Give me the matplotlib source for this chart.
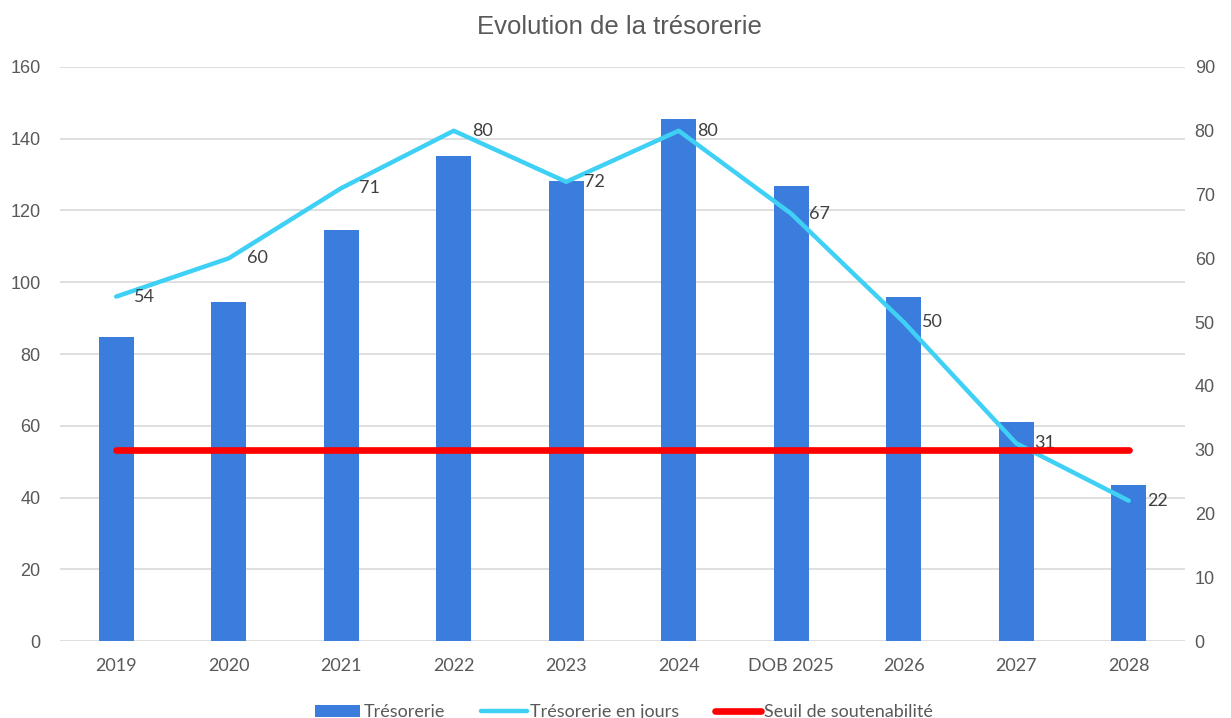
import matplotlib.pyplot as plt
import numpy as np

# données
annees = ["2019", "2020", "2021", "2022", "2023", "2024", "DOB 2025", "2026", "2027", "2028"]
tresorerie = [84.7, 94.6, 114.6, 135.1, 128.3, 145.4, 126.8, 95.8, 61.1, 43.6]
tresorerie_jours = [54, 60, 71, 80, 72, 80, 67, 50, 31, 22]
seuil = [30] * len(annees)

BLEU = "#3b7ddd"
CYAN = "#3fd0f5"
ROUGE = "#ff0000"
GRIS = "#595959"

def main():
    fig = plt.figure(figsize=(12.31, 7.18), dpi=100)
    ax = fig.add_axes([0.0487, 0.1072, 0.9139, 0.7995])
    ax2 = ax.twinx()

    x = np.arange(len(annees))

    # barres (axe gauche)
    ax.bar(x, tresorerie, width=0.31, color=BLEU, label="Trésorerie", zorder=2)
    ax.set_ylim(0, 160)
    ax.set_yticks(range(0, 161, 20))
    ax.set_xlim(-0.5, len(annees) - 0.5)
    ax.set_xticks(x)
    ax.set_xticklabels(annees, family="Lato", fontsize=13, color=GRIS)
    ax.grid(axis="y", color="#d9d9d9", linewidth=1.2, zorder=0)
    ax.set_axisbelow(True)

    # lignes (axe droit)
    ax2.plot(x, tresorerie_jours, color=CYAN, linewidth=3.2, label="Trésorerie en jours",
             solid_capstyle="round", zorder=3)
    ax2.plot(x, seuil, color=ROUGE, linewidth=4.8, label="Seuil de soutenabilité",
             solid_capstyle="round", zorder=4)
    ax2.set_ylim(0, 90)
    ax2.set_yticks(range(0, 91, 10))

    for xi, v in zip(x, tresorerie_jours):
        ax2.annotate(str(v), (xi, v), xytext=(13, 0), textcoords="offset points",
                     ha="left", va="center", fontsize=13, color="#404040", family="Lato")

    for a in (ax, ax2):
        for s in a.spines.values():
            s.set_visible(False)
        a.tick_params(length=0, colors=GRIS)
    for lab in ax.get_yticklabels() + ax2.get_yticklabels():
        lab.set_fontsize(13)
        lab.set_family("Liberation Sans")
    ax.tick_params(axis="y", pad=14)
    ax2.tick_params(axis="y", pad=7)
    ax.tick_params(axis="x", pad=12)

    ax.set_zorder(1)
    ax2.set_zorder(2)
    ax.patch.set_visible(False)

    fig.text(0.503, 0.962, "Evolution de la trésorerie", ha="center", va="center",
             fontsize=18.5, color=GRIS, family="Liberation Sans")

    h1, l1 = ax.get_legend_handles_labels()
    h2, l2 = ax2.get_legend_handles_labels()
    fig.legend(h1 + h2, l1 + l2, loc="center", bbox_to_anchor=(0.507, 0.008), ncol=3,
               frameon=False, prop={"family": "Lato", "size": 13}, labelcolor=GRIS,
               handlelength=2.5, handletextpad=0.2, columnspacing=2.0)

    fig.savefig("out.png", dpi=100)

if __name__ == "__main__":
    main()
